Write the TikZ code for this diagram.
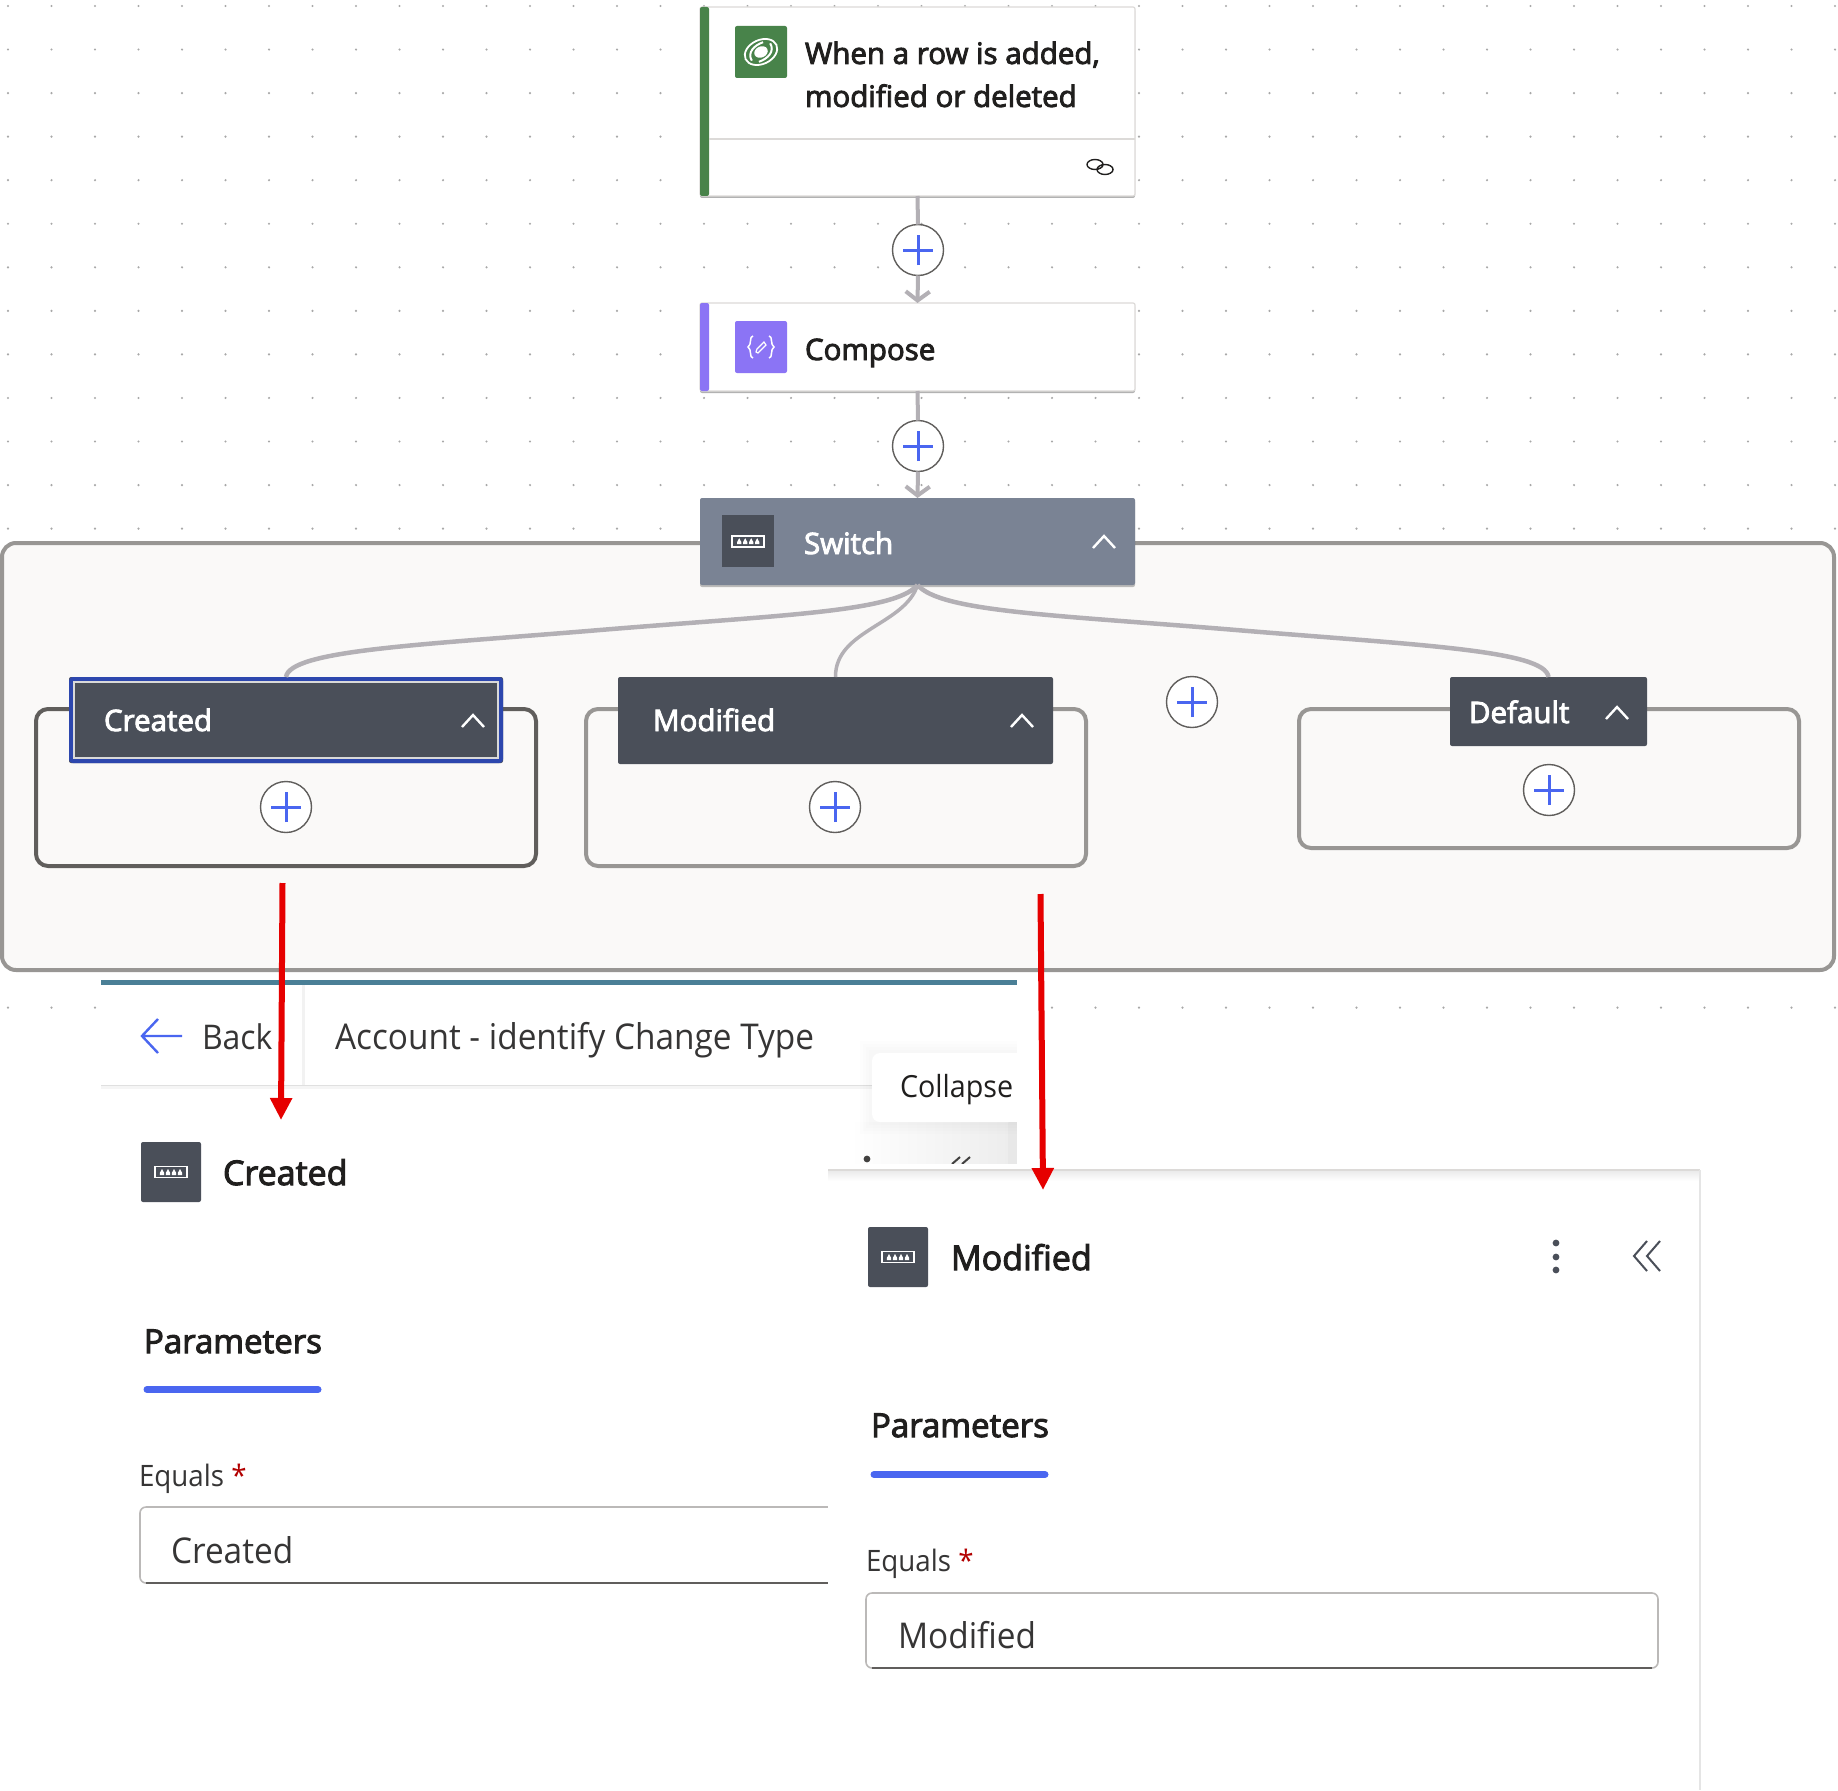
\documentclass[tikz,border=0pt]{standalone}
\usepackage{fontspec}
\usetikzlibrary{arrows.meta,shadows,calc}
\newfontfamily\uireg{Open Sans}[FakeStretch=0.94]
\newfontfamily\uisemi{Open Sans}[FakeBold=3]
\definecolor{dotc}{HTML}{A8A8A8}
\definecolor{conn}{HTML}{B3B0B5}
\definecolor{plusblue}{HTML}{4A66F0}
\definecolor{frameg}{HTML}{989694}
\definecolor{framed}{HTML}{605E5C}
\definecolor{canvas}{HTML}{FAF9F8}
\definecolor{darkh}{HTML}{4A4F59}
\definecolor{switchc}{HTML}{7A8394}
\definecolor{greenc}{HTML}{48834A}
\definecolor{purplec}{HTML}{8B74F5}
\definecolor{selblue}{HTML}{2D47AE}
\definecolor{teal}{HTML}{4A7F96}
\definecolor{redc}{HTML}{E60000}
\definecolor{inkc}{HTML}{201F1E}
\definecolor{edgec}{HTML}{DCDAD8}
\tikzset{
 card/.style={draw=edgec,line width=1.2pt,fill=white,rounded corners=2pt,anchor=north west,inner sep=0,outer sep=0,
   drop shadow={shadow xshift=0pt,shadow yshift=-2pt,opacity=.3,fill=black}},
 scopebox/.style={draw=frameg,line width=4pt,fill=canvas,rounded corners=14pt,anchor=north west,inner sep=0,outer sep=0},
 head/.style={fill=darkh,rounded corners=2pt,anchor=north west,inner sep=0,outer sep=0},
 iconbox/.style={rounded corners=2pt,anchor=north west,inner sep=0,outer sep=0},
 plusnode/.style={circle,draw=framed,line width=1.4pt,fill=white,minimum size=51pt,inner sep=0,outer sep=0,
   path picture={\draw[plusblue,line width=3pt]
     ([xshift=-15pt]path picture bounding box.center)--([xshift=15pt]path picture bounding box.center)
     ([yshift=-15pt]path picture bounding box.center)--([yshift=15pt]path picture bounding box.center);}},
 link/.style={conn,line width=4pt},
 linkarrow/.style={conn,line width=4pt,-{Straight Barb[length=9pt,width=24pt,line width=4pt]}},
 branch/.style={conn,line width=4.5pt},
 redarrow/.style={redc,line width=6pt,-{Triangle[length=22pt,width=21pt]},shorten <=0pt},
 lbl/.style={anchor=base west,inner sep=0,outer sep=0},
 cardtxt/.style={lbl,font=\uisemi\fontsize{29.5}{36}\selectfont,text=inkc},
 headtxt/.style={lbl,font=\uisemi\fontsize{29.5}{36}\selectfont,text=white},
 chev/.style={white,line width=2.4pt},
 tabbar/.style={plusblue,line width=7pt,line cap=round},
 fieldbox/.style={draw=edgec!85!black,line width=1.6pt,fill=white,rounded corners=6pt,anchor=north west,inner sep=0,outer sep=0},
 pics/swicon/.style={code={
   \draw[white,line width=1.6pt] (-16,-5.5) rectangle (16,5.5);
   \foreach \k in {-9,-3,3,9}{\fill[white] (\k,-3) -- (\k-2.2,1) -- (\k-2.2,3) -- (\k+2.2,3) -- (\k+2.2,1) -- cycle;}
 }},
}
\begin{document}
\begin{tikzpicture}[x=1pt,y=-1pt]
\useasboundingbox (0,0) rectangle (1838,1790);
\fill[white] (0,0) rectangle (1838,1790);
% canvas dots
\foreach \r in {0,...,12,23}{\foreach \c in {0,...,42}{
  \fill[dotc] ({8+43.5*\c},{6+43.55*\r}) circle (1.2);}}

% outer switch scope
\node[scopebox,minimum width=1832pt,minimum height=427pt] (scope) at (2,543) {};

% top cards
\node[card,minimum width=435pt,minimum height=189pt] (trigger) at (700,7) {};
\fill[greenc,rounded corners=2pt] (trigger.north west) rectangle ([xshift=9pt]trigger.south west);
\draw[edgec,line width=1.5pt] ([xshift=9pt]trigger.west |- 0,139) -- (trigger.east |- 0,139);
\node[iconbox,fill=greenc,minimum width=52pt,minimum height=52pt] (trigicon) at (735,26) {};
\begin{scope}[shift={(trigicon.center)},rotate=25,white,line width=1.8pt]
 \draw (0,0) ellipse (17 and 12);
 \fill (0,0) ellipse (7 and 5.5);
 \draw[line width=2pt] (-12,4) .. controls (-13,-5) and (-4,-9) .. (6,-8);
 \draw[line width=2pt] (12,-4) .. controls (13,5) and (4,9) .. (-6,8);
\end{scope}
\node[cardtxt,anchor=north west,align=left,font=\uisemi\fontsize{29.5}{43}\selectfont] (trigtxt) at (805,41.5) {When a row is added,\\modified or deleted};
\coordinate (linkc) at (1100,167);
\draw[inkc,line width=1.4pt] ([shift={(-5,-2.5)}]linkc) ellipse (8 and 5) ([shift={(5,2.5)}]linkc) ellipse (8 and 5);

\node[plusnode] (plusa) at (918,250) {};
\node[card,minimum width=435pt,minimum height=88pt] (compose) at (700,303) {};
\fill[purplec,rounded corners=2pt] (compose.north west) rectangle ([xshift=9pt]compose.south west);
\node[iconbox,fill=purplec,minimum width=52pt,minimum height=52pt] (compicon) at (735,321) {};
\begin{scope}[shift={(compicon.center)},white,line width=1.5pt]
 \draw (-8,-11) .. controls (-12,-11) and (-9,-2) .. (-13,0) .. controls (-9,2) and (-12,11) .. (-8,11);
 \draw (8,-11) .. controls (12,-11) and (9,-2) .. (13,0) .. controls (9,2) and (12,11) .. (8,11);
 \draw[line width=1.2pt] (-5,5) -- (-3,6) -- (5,-2) -- (3,-5) -- (-4,2) -- cycle;
\end{scope}
\node[cardtxt] (comptxt) at (805,360) {Compose};

\node[plusnode] (plusb) at (918,446) {};
\node[iconbox,fill=switchc,minimum width=435pt,minimum height=87pt,
  drop shadow={shadow xshift=0pt,shadow yshift=-2pt,opacity=.25,fill=black}] (switch) at (700,498) {};
\node[anchor=north west,fill=darkh,inner sep=0,minimum width=52pt,minimum height=52pt] (swicon) at (722,515) {};
\pic at (swicon.center) {swicon};
\node[headtxt] (swtxt) at (804,554) {Switch};
\coordinate (swchev) at (1104,541);
\draw[chev] ([shift={(-11,7)}]swchev) -- ([shift={(0,-5)}]swchev) -- ([shift={(11,7)}]swchev);

% connectors
\draw[link] (trigger.south) -- (plusa.north);
\draw[linkarrow] (plusa.south) -- (compose.north);
\draw[link] (compose.south) -- (plusb.north);
\draw[linkarrow] (plusb.south) -- (switch.north);

% case frames
\node[scopebox,draw=framed,rounded corners=12pt,minimum width=500pt,minimum height=157pt] (cfa) at (36,709) {};
\node[scopebox,rounded corners=12pt,minimum width=500pt,minimum height=157pt] (cfb) at (586,709) {};
\node[scopebox,rounded corners=12pt,minimum width=500pt,minimum height=139pt] (cfc) at (1299,709) {};

\node[head,minimum width=434pt,minimum height=86pt] (created) at (69,677) {};
\draw[selblue,line width=4pt,rounded corners=2pt] ([shift={(2,2)}]created.north west) rectangle ([shift={(-2,-2)}]created.south east);
\draw[white!85!black,line width=1.5pt] ([shift={(5,5)}]created.north west) rectangle ([shift={(-5,-5)}]created.south east);
\node[headtxt] (createdt) at (104,731) {Created};
\node[head,minimum width=435pt,minimum height=87pt] (modified) at (618,677) {};
\node[headtxt] (modifiedt) at (653,731) {Modified};
\node[head,minimum width=197pt,minimum height=69pt] (default) at (1450,677) {};
\node[headtxt] (defaultt) at (1469,723) {Default};
\foreach \px/\py in {473/720,1022/720,1617/712}{
  \draw[chev] (\px-11,\py+7) -- (\px,\py-5) -- (\px+11,\py+7);}

\node[plusnode] (plusc) at (286,807) {};
\node[plusnode] (plusd) at (835,807) {};
\node[plusnode] (pluse) at (1192,702) {};
\node[plusnode] (plusf) at (1549,790) {};

\draw[branch] (switch.south) .. controls (895,612) and (780,615) .. (600,630) .. controls (420,645) and (290,650) .. (created.north);
\draw[branch,line width=3.5pt] (switch.south) .. controls (905,625) and (835,630) .. (modified.north);
\draw[branch] (switch.south) .. controls (941,612) and (1056,615) .. (1236,630) .. controls (1416,645) and (1545,650) .. (default.north);

% first details panel
\fill[white] (101,982) rectangle (1017,1790);
\fill[teal] (101,979.5) rectangle (1017,984.5);
\fill[black!4] (101,1085) rectangle (1017,1089);
\fill[black!12] (101,1084.5) rectangle (1017,1086);
\fill[black!5] (301.5,985) rectangle (304.5,1085);
\coordinate (backa) at (142,1036);
\draw[plusblue,line width=2.4pt] (182,1036) -- (backa) (158,1019) -- (backa) -- (158,1053);
\node[lbl,font=\uireg\fontsize{34}{40}\selectfont,text=inkc!90] (backt) at (202,1049) {Back};
\node[lbl,font=\uireg\fontsize{35.5}{42}\selectfont,text=inkc!90] (acct) at (335,1049) {Account - identify Change Type};
\shade[left color=white,right color=black!7] (850,1122) rectangle (1008,1164);
\fill[black!9] (1008,1122) rectangle (1017,1164);
\foreach \g in {12,9,6,3}{\fill[black,opacity=.008] (872-\g,1053-\g) rectangle (1017,1122+\g);}
\node[fill=white,rounded corners=8pt,anchor=north west,inner sep=0,outer sep=0,minimum width=145pt,minimum height=69pt] (tooltip) at (872,1053) {};
\fill[white] (1000,1053) rectangle (1017,1122);
\node[lbl,font=\uireg\fontsize{30.5}{36}\selectfont,text=inkc] (tipt) at (900,1097) {Collapse};
\fill[inkc!85] (867,1159) circle (3.4);
\draw[inkc!85,line width=2pt] (952,1164) -- (960,1157) (962,1164) -- (970,1157);

\node[iconbox,fill=darkh,minimum width=60pt,minimum height=60pt] (icona) at (141,1142) {};
\pic at (icona.center) {swicon};
\node[lbl,font=\uisemi\fontsize{34}{40}\selectfont,text=inkc] (titlea) at (223,1185) {Created};
\node[lbl,font=\uisemi\fontsize{33}{38}\selectfont,text=inkc] (parama) at (144,1353) {Parameters};
\draw[tabbar] (147,1389.5) coordinate (bara) -- (318,1389.5);
\node[lbl,font=\uireg\fontsize{29.5}{34}\selectfont,text=inkc!90] (equalsa) at (139,1486) {Equals {\color{red!70!black}*}};
\node[fieldbox,minimum width=740pt,minimum height=76pt] (fielda) at (140,1507) {};
\draw[framed,line width=2pt] (146,1583) -- (880,1583);
\node[lbl,font=\uireg\fontsize{35.5}{42}\selectfont,text=inkc!90] (vala) at (171,1563) {Created};

% second details panel
\fill[white] (828,1164) rectangle (1032,1172);
\fill[white] (828,1170) rectangle (1700,1790);
\shade[top color=black!8,bottom color=white] (828,1171) rectangle (1700,1181);
\draw[edgec,line width=1.5pt] (828,1170) -- (1700,1170);
\draw[black!10,line width=2pt] (1700,1170) -- (1700,1790);
\node[iconbox,fill=darkh,minimum width=60pt,minimum height=60pt] (iconb) at (868,1227) {};
\pic at (iconb.center) {swicon};
\node[lbl,font=\uisemi\fontsize{34}{40}\selectfont,text=inkc] (titleb) at (951,1270) {Modified};
\foreach \dy in {1243,1257,1270}{\fill[darkh] (1556,\dy) circle (3.4);}
\draw[darkh,line width=2pt] (1647,1241) -- (1634,1256) -- (1647,1271) (1660,1241) -- (1647,1256) -- (1660,1271);
\node[lbl,font=\uisemi\fontsize{33}{38}\selectfont,text=inkc] (paramb) at (871,1437) {Parameters};
\draw[tabbar] (874,1474.5) coordinate (barb) -- (1045,1474.5);
\node[lbl,font=\uireg\fontsize{29.5}{34}\selectfont,text=inkc!90] (equalsb) at (866,1571) {Equals {\color{red!70!black}*}};
\node[fieldbox,minimum width=792pt,minimum height=75pt] (fieldb) at (866,1593) {};
\draw[framed,line width=2pt] (872,1668) -- (1652,1668);
\node[lbl,font=\uireg\fontsize{35.5}{42}\selectfont,text=inkc!90] (valb) at (898,1648) {Modified};

% red callout arrows
\coordinate (ra0) at (282.5,883); \coordinate (ra1) at (281,1120);
\coordinate (rb0) at (1040.5,894); \coordinate (rb1) at (1043,1190);
\draw[redarrow] (ra0) -- (ra1);
\draw[redarrow] (rb0) -- (rb1);
\end{tikzpicture}
\end{document}
